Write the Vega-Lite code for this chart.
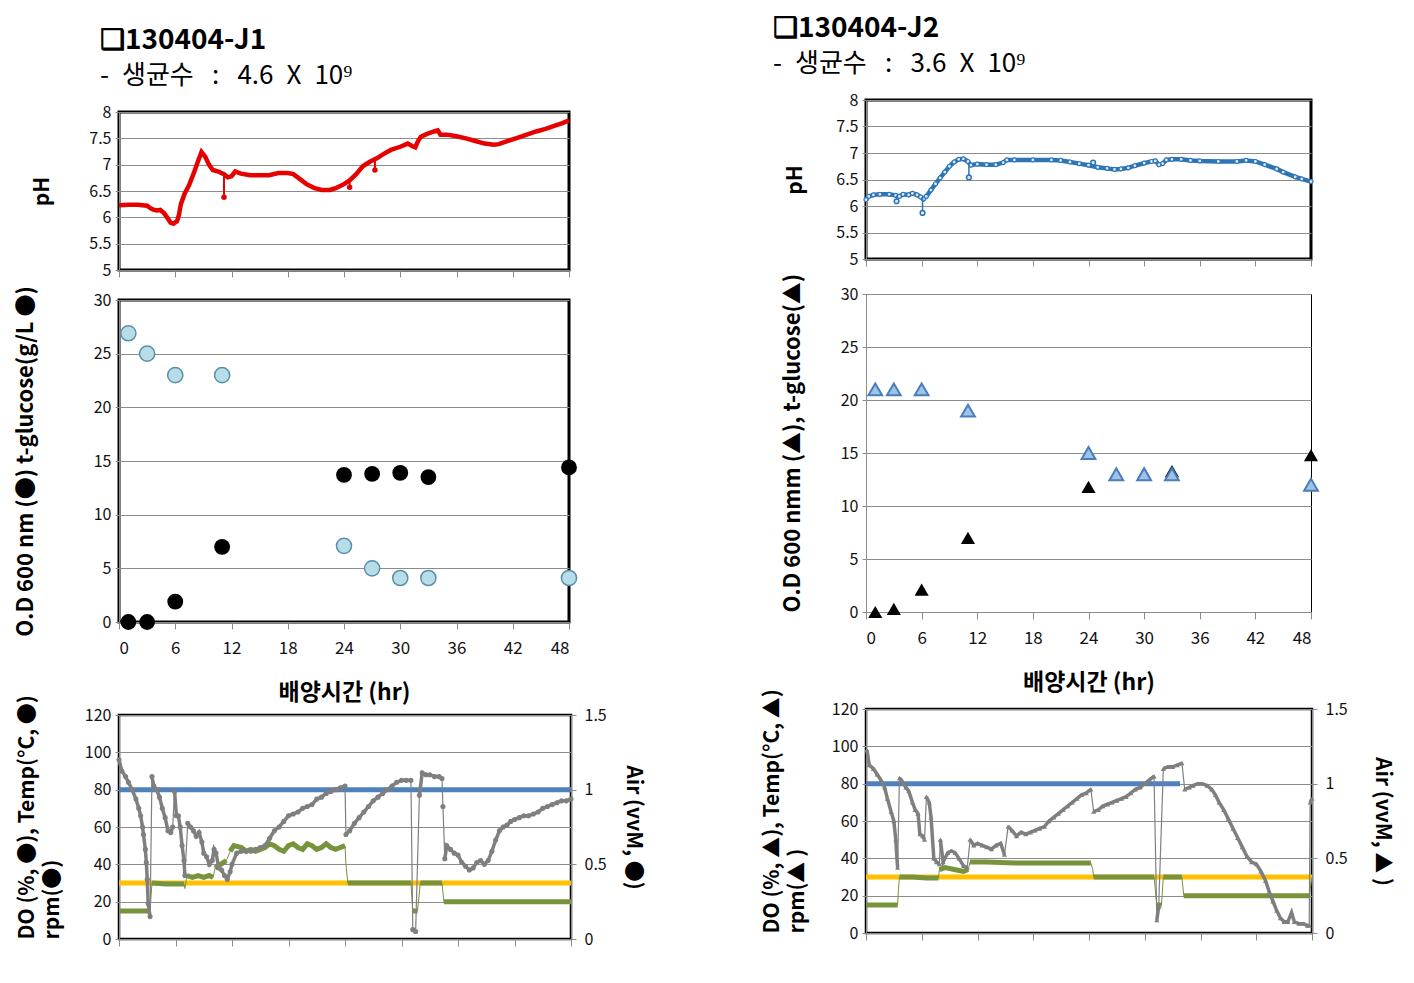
{
"$schema": "https://vega.github.io/schema/vega-lite/v6.json",
"background": "white",
"padding": {"left": 12, "top": 0, "right": 20, "bottom": 0},
"config": {
  "font": "Noto Sans CJK KR",
  "axis": {"labelFont": "Noto Sans CJK KR", "labelFontSize": 16, "labelColor": "#111", "titleFont": "Noto Sans CJK KR", "titleFontSize": 21, "titleFontWeight": "bold", "titleColor": "#000", "gridColor": "#8c8c8c", "domainColor": "#8c8c8c", "tickColor": "#8c8c8c", "tickSize": 5, "labelPadding": 4}
},
"datasets": {
  "phL": [{"t":0,"ph":6.23},{"t":1,"ph":6.24},{"t":2,"ph":6.24},{"t":3,"ph":6.22},{"t":3.3,"ph":6.18},{"t":3.6,"ph":6.15},{"t":4,"ph":6.13},{"t":4.4,"ph":6.14},{"t":4.8,"ph":6.08},{"t":5.2,"ph":5.98},{"t":5.5,"ph":5.9},{"t":5.8,"ph":5.88},{"t":6.2,"ph":5.93},{"t":6.4,"ph":6.05},{"t":6.6,"ph":6.25},{"t":7,"ph":6.45},{"t":7.5,"ph":6.62},{"t":8,"ph":6.85},{"t":8.4,"ph":7.05},{"t":8.8,"ph":7.24},{"t":9.2,"ph":7.15},{"t":9.6,"ph":7.0},{"t":10,"ph":6.9},{"t":10.6,"ph":6.87},{"t":11.2,"ph":6.82},{"t":11.6,"ph":6.76},{"t":12,"ph":6.78},{"t":12.4,"ph":6.87},{"t":13,"ph":6.83},{"t":14,"ph":6.8},{"t":15,"ph":6.8},{"t":16,"ph":6.8},{"t":17,"ph":6.84},{"t":18,"ph":6.84},{"t":18.6,"ph":6.82},{"t":19.2,"ph":6.74},{"t":20,"ph":6.63},{"t":20.8,"ph":6.56},{"t":21.6,"ph":6.52},{"t":22.5,"ph":6.52},{"t":23.2,"ph":6.56},{"t":24,"ph":6.63},{"t":24.6,"ph":6.7},{"t":25.3,"ph":6.82},{"t":26,"ph":6.97},{"t":26.8,"ph":7.06},{"t":27.5,"ph":7.12},{"t":28.2,"ph":7.2},{"t":29,"ph":7.28},{"t":30,"ph":7.34},{"t":30.8,"ph":7.4},{"t":31.3,"ph":7.35},{"t":31.6,"ph":7.33},{"t":31.9,"ph":7.45},{"t":32.2,"ph":7.53},{"t":32.8,"ph":7.58},{"t":33.6,"ph":7.63},{"t":34,"ph":7.65},{"t":34.3,"ph":7.57},{"t":35,"ph":7.57},{"t":36,"ph":7.54},{"t":37,"ph":7.5},{"t":38,"ph":7.45},{"t":39,"ph":7.4},{"t":40,"ph":7.38},{"t":40.5,"ph":7.39},{"t":41.5,"ph":7.45},{"t":42.5,"ph":7.51},{"t":43.5,"ph":7.57},{"t":44.5,"ph":7.63},{"t":45.5,"ph":7.68},{"t":46.5,"ph":7.74},{"t":47.3,"ph":7.79},{"t":48,"ph":7.84}],
  "phLs": [{"t":11.2,"ph":6.38,"ph2":6.82},{"t":24.6,"ph":6.57,"ph2":6.7},{"t":27.3,"ph":6.9,"ph2":7.1}],
  "phR": [{"t":0,"ph":6.12},{"t":0.3,"ph":6.18},{"t":0.8,"ph":6.21},{"t":1.5,"ph":6.22},{"t":2.5,"ph":6.22},{"t":3.2,"ph":6.2},{"t":3.6,"ph":6.18},{"t":4,"ph":6.22},{"t":4.6,"ph":6.21},{"t":5,"ph":6.24},{"t":5.5,"ph":6.21},{"t":5.9,"ph":6.17},{"t":6.2,"ph":6.13},{"t":6.5,"ph":6.18},{"t":7,"ph":6.3},{"t":7.5,"ph":6.42},{"t":8,"ph":6.53},{"t":8.5,"ph":6.64},{"t":9,"ph":6.75},{"t":9.5,"ph":6.83},{"t":10,"ph":6.88},{"t":10.5,"ph":6.89},{"t":11,"ph":6.84},{"t":11.3,"ph":6.77},{"t":12,"ph":6.79},{"t":13,"ph":6.78},{"t":14,"ph":6.78},{"t":14.8,"ph":6.82},{"t":15.2,"ph":6.87},{"t":16,"ph":6.87},{"t":18,"ph":6.87},{"t":20,"ph":6.87},{"t":21,"ph":6.86},{"t":22,"ph":6.83},{"t":23,"ph":6.8},{"t":24,"ph":6.77},{"t":25,"ph":6.73},{"t":26,"ph":6.71},{"t":26.8,"ph":6.69},{"t":27.5,"ph":6.7},{"t":28.3,"ph":6.72},{"t":29,"ph":6.76},{"t":30,"ph":6.81},{"t":30.8,"ph":6.84},{"t":31.2,"ph":6.85},{"t":31.6,"ph":6.78},{"t":32,"ph":6.8},{"t":32.4,"ph":6.87},{"t":33,"ph":6.88},{"t":34,"ph":6.88},{"t":35,"ph":6.86},{"t":36,"ph":6.85},{"t":38,"ph":6.84},{"t":40,"ph":6.84},{"t":41,"ph":6.86},{"t":42,"ph":6.84},{"t":43,"ph":6.78},{"t":44.3,"ph":6.7},{"t":45,"ph":6.64},{"t":46.3,"ph":6.55},{"t":47,"ph":6.51},{"t":48,"ph":6.46}],
  "phRs": [{"t":3.3,"ph":6.09,"ph2":6.2},{"t":6.1,"ph":5.87,"ph2":6.15},{"t":11.1,"ph":6.54,"ph2":6.82},{"t":24.5,"ph":6.82,"ph2":6.76}],
  "odL": [{"t":1,"v":0},{"t":3,"v":0},{"t":6,"v":1.9},{"t":11,"v":7},{"t":24,"v":13.7},{"t":27,"v":13.8},{"t":30,"v":13.9},{"t":33,"v":13.5},{"t":48,"v":14.4}],
  "gluL": [{"t":1,"v":26.9},{"t":3,"v":25},{"t":6,"v":23},{"t":11,"v":23},{"t":24,"v":7.1},{"t":27,"v":5},{"t":30,"v":4.1},{"t":33,"v":4.1},{"t":48,"v":4.1}],
  "odR": [{"t":1,"v":0},{"t":3,"v":0.3},{"t":6,"v":2.1},{"t":11,"v":7},{"t":24,"v":11.8},{"t":27,"v":13},{"t":30,"v":13.1},{"t":33,"v":13.3},{"t":48,"v":14.8}],
  "gluR": [{"t":1,"v":21},{"t":3,"v":21},{"t":6,"v":21},{"t":11,"v":19},{"t":24,"v":15},{"t":27,"v":13},{"t":30,"v":13},{"t":33,"v":13},{"t":48,"v":12}],
  "tempL": [{"t":0,"v":30},{"t":48,"v":30}],
  "airL": [{"t":0,"v":1},{"t":48,"v":1}],
  "tempR": [{"t":0,"v":30},{"t":48,"v":30}],
  "airR": [{"t":0,"v":1},{"t":33.8,"v":1}],
  "doL": [{"t":0,"v":96,"s":"a"},{"t":0.3,"v":90,"s":"a"},{"t":0.7,"v":87,"s":"a"},{"t":1.0,"v":84,"s":"a"},{"t":1.4,"v":80,"s":"a"},{"t":1.8,"v":75,"s":"a"},{"t":2.1,"v":70,"s":"a"},{"t":2.3,"v":66,"s":"a"},{"t":2.5,"v":60,"s":"a"},{"t":2.6,"v":56,"s":"a"},{"t":2.8,"v":48,"s":"a"},{"t":2.9,"v":41,"s":"a"},{"t":3.0,"v":32,"s":"a"},{"t":3.1,"v":19,"s":"a"},{"t":3.3,"v":12,"s":"a"},
    {"t":3.5,"v":87,"s":"b"},{"t":3.7,"v":82,"s":"b"},{"t":4.0,"v":80,"s":"b"},{"t":4.3,"v":76,"s":"b"},{"t":4.6,"v":70,"s":"b"},{"t":4.9,"v":65,"s":"b"},{"t":5.2,"v":58,"s":"b"},{"t":5.5,"v":57,"s":"b"},{"t":5.7,"v":60,"s":"b"},
    {"t":5.9,"v":79,"s":"c"},{"t":6.1,"v":66,"s":"c"},{"t":6.3,"v":66,"s":"c"},{"t":6.5,"v":60,"s":"c"},{"t":6.7,"v":50,"s":"c"},{"t":6.9,"v":42,"s":"c"},{"t":7.0,"v":34,"s":"c"},
    {"t":7.3,"v":62,"s":"d"},{"t":7.6,"v":60,"s":"d"},{"t":7.9,"v":58,"s":"d"},{"t":8.2,"v":55,"s":"d"},{"t":8.5,"v":57,"s":"d"},{"t":8.8,"v":52,"s":"d"},{"t":9.0,"v":46,"s":"d"},{"t":9.3,"v":44,"s":"d"},{"t":9.6,"v":40,"s":"d"},{"t":9.9,"v":42,"s":"d"},{"t":10.1,"v":48,"s":"d"},{"t":10.3,"v":46,"s":"d"},{"t":10.6,"v":38,"s":"d"},{"t":10.9,"v":37,"s":"d"},{"t":11.2,"v":34,"s":"d"},{"t":11.5,"v":32,"s":"d"},{"t":11.8,"v":36,"s":"d"},{"t":12.0,"v":40,"s":"d"},{"t":12.5,"v":46,"s":"d"},{"t":13.0,"v":47,"s":"d"},{"t":13.5,"v":47,"s":"d"},{"t":14.0,"v":47,"s":"d"},{"t":14.5,"v":48,"s":"d"},{"t":15.0,"v":49,"s":"d"},{"t":15.5,"v":50,"s":"d"},{"t":16.0,"v":54,"s":"d"},{"t":16.5,"v":58,"s":"d"},{"t":17.0,"v":60,"s":"d"},{"t":17.5,"v":63,"s":"d"},{"t":18.0,"v":66,"s":"d"},{"t":18.5,"v":67,"s":"d"},{"t":19.0,"v":68,"s":"d"},{"t":19.5,"v":70,"s":"d"},{"t":20.0,"v":71,"s":"d"},{"t":20.5,"v":72,"s":"d"},{"t":21.0,"v":75,"s":"d"},{"t":21.5,"v":76,"s":"d"},{"t":22.0,"v":78,"s":"d"},{"t":22.5,"v":79,"s":"d"},{"t":23.0,"v":80,"s":"d"},{"t":23.5,"v":81,"s":"d"},{"t":24.0,"v":82,"s":"d"},
    {"t":24.1,"v":56,"s":"e"},{"t":24.5,"v":58,"s":"e"},{"t":25.0,"v":62,"s":"e"},{"t":25.5,"v":65,"s":"e"},{"t":26.0,"v":68,"s":"e"},{"t":26.5,"v":71,"s":"e"},{"t":27.0,"v":74,"s":"e"},{"t":27.5,"v":76,"s":"e"},{"t":28.0,"v":78,"s":"e"},{"t":28.5,"v":80,"s":"e"},{"t":29.0,"v":82,"s":"e"},{"t":29.5,"v":84,"s":"e"},{"t":30.0,"v":85,"s":"e"},{"t":30.5,"v":85,"s":"e"},{"t":31.0,"v":85,"s":"e"},
    {"t":31.2,"v":5,"s":"f"},{"t":31.5,"v":4,"s":"f"},
    {"t":31.9,"v":77,"s":"g"},{"t":32.2,"v":89,"s":"g"},{"t":32.6,"v":88,"s":"g"},{"t":33.0,"v":88,"s":"g"},{"t":33.5,"v":87,"s":"g"},{"t":34.0,"v":87,"s":"g"},{"t":34.3,"v":86,"s":"g"},
    {"t":34.4,"v":71,"s":"h"},
    {"t":34.6,"v":43,"s":"i"},{"t":34.8,"v":50,"s":"i"},{"t":35.2,"v":48,"s":"i"},{"t":35.6,"v":46,"s":"i"},{"t":36.0,"v":45,"s":"i"},{"t":36.4,"v":41,"s":"i"},{"t":36.8,"v":39,"s":"i"},{"t":37.2,"v":37,"s":"i"},{"t":37.6,"v":38,"s":"i"},{"t":38.0,"v":41,"s":"i"},{"t":38.4,"v":42,"s":"i"},{"t":38.8,"v":40,"s":"i"},{"t":39.2,"v":42,"s":"i"},{"t":39.6,"v":47,"s":"i"},{"t":40.0,"v":53,"s":"i"},{"t":40.4,"v":58,"s":"i"},{"t":40.8,"v":60,"s":"i"},{"t":41.2,"v":61,"s":"i"},{"t":41.6,"v":63,"s":"i"},{"t":42.0,"v":64,"s":"i"},{"t":42.5,"v":65,"s":"i"},{"t":43.0,"v":66,"s":"i"},{"t":43.5,"v":66,"s":"i"},{"t":44.0,"v":67,"s":"i"},{"t":44.5,"v":68,"s":"i"},{"t":45.0,"v":70,"s":"i"},{"t":45.5,"v":71,"s":"i"},{"t":46.0,"v":72,"s":"i"},{"t":46.5,"v":73,"s":"i"},{"t":47.0,"v":74,"s":"i"},{"t":47.5,"v":74,"s":"i"},{"t":48.0,"v":75,"s":"i"}],
  "rpmL": [{"t":0,"v":15,"s":"a"},{"t":1,"v":15,"s":"a"},{"t":2,"v":15,"s":"a"},{"t":3.3,"v":15,"s":"a"},
    {"t":3.5,"v":30,"s":"b"},{"t":5,"v":29.5,"s":"b"},{"t":6.9,"v":29.5,"s":"b"},
    {"t":7.0,"v":27,"s":"c"},
    {"t":7.2,"v":34,"s":"d"},{"t":7.8,"v":33,"s":"d"},{"t":8.4,"v":34,"s":"d"},{"t":9.0,"v":33,"s":"d"},{"t":9.6,"v":34,"s":"d"},{"t":10.0,"v":33,"s":"d"},
    {"t":10.2,"v":38,"s":"e"},{"t":10.8,"v":40,"s":"e"},{"t":11.4,"v":42,"s":"e"},
    {"t":11.8,"v":47,"s":"f"},{"t":12.2,"v":50,"s":"f"},{"t":13.0,"v":49,"s":"f"},{"t":13.5,"v":47,"s":"f"},{"t":14.0,"v":48,"s":"f"},{"t":14.5,"v":47,"s":"f"},{"t":15.0,"v":48,"s":"f"},{"t":15.5,"v":49,"s":"f"},{"t":16.0,"v":51,"s":"f"},{"t":16.5,"v":50,"s":"f"},{"t":17.0,"v":48,"s":"f"},{"t":17.5,"v":47,"s":"f"},{"t":18.0,"v":50,"s":"f"},{"t":18.5,"v":51,"s":"f"},{"t":19.0,"v":49,"s":"f"},{"t":19.5,"v":48,"s":"f"},{"t":20.0,"v":51,"s":"f"},{"t":20.5,"v":50,"s":"f"},{"t":21.0,"v":48,"s":"f"},{"t":21.5,"v":49,"s":"f"},{"t":22.0,"v":51,"s":"f"},{"t":22.5,"v":49,"s":"f"},{"t":23.0,"v":48,"s":"f"},{"t":23.5,"v":49,"s":"f"},{"t":24.0,"v":50,"s":"f"},
    {"t":24.1,"v":40,"s":"g"},
    {"t":24.3,"v":30,"s":"h"},{"t":31.0,"v":30,"s":"h"},
    {"t":31.2,"v":15,"s":"i"},{"t":31.7,"v":15,"s":"i"},
    {"t":32.0,"v":30,"s":"j"},{"t":34.3,"v":30,"s":"j"},
    {"t":34.5,"v":20,"s":"k"},{"t":48,"v":20,"s":"k"}],
  "doR": [{"t":0.1,"v":98,"s":"a"},{"t":0.35,"v":90,"s":"a"},{"t":0.8,"v":88,"s":"a"},{"t":1.2,"v":85,"s":"a"},{"t":1.6,"v":82,"s":"a"},{"t":2.0,"v":78,"s":"a"},{"t":2.3,"v":72,"s":"a"},{"t":2.7,"v":65,"s":"a"},{"t":3.0,"v":60,"s":"a"},{"t":3.2,"v":50,"s":"a"},{"t":3.4,"v":35,"s":"a"},
    {"t":3.6,"v":83,"s":"b"},{"t":3.8,"v":82,"s":"b"},{"t":4.3,"v":78,"s":"b"},{"t":4.6,"v":76,"s":"b"},{"t":5.0,"v":70,"s":"b"},{"t":5.3,"v":66,"s":"b"},{"t":5.6,"v":64,"s":"b"},{"t":5.8,"v":53,"s":"b"},{"t":6.1,"v":52,"s":"b"},{"t":6.3,"v":50,"s":"b"},
    {"t":6.5,"v":73,"s":"c"},{"t":6.8,"v":70,"s":"c"},{"t":7.0,"v":62,"s":"c"},{"t":7.3,"v":40,"s":"c"},{"t":7.6,"v":38,"s":"c"},{"t":7.9,"v":37,"s":"c"},
    {"t":8.0,"v":50,"s":"d"},{"t":8.3,"v":38,"s":"d"},{"t":8.8,"v":43,"s":"d"},{"t":9.2,"v":44,"s":"d"},{"t":9.6,"v":43,"s":"d"},{"t":10.0,"v":40,"s":"d"},{"t":10.5,"v":36,"s":"d"},{"t":10.9,"v":35,"s":"d"},
    {"t":11.2,"v":50,"s":"e"},{"t":11.6,"v":47,"s":"e"},{"t":12.0,"v":48,"s":"e"},{"t":12.5,"v":47,"s":"e"},{"t":13.0,"v":46,"s":"e"},{"t":13.5,"v":45,"s":"e"},{"t":14.0,"v":47,"s":"e"},{"t":14.5,"v":48,"s":"e"},{"t":14.9,"v":42,"s":"e"},
    {"t":15.3,"v":57,"s":"f"},{"t":15.7,"v":55,"s":"f"},{"t":16.2,"v":52,"s":"f"},{"t":16.7,"v":54,"s":"f"},{"t":17.2,"v":53,"s":"f"},{"t":17.7,"v":54,"s":"f"},{"t":18.2,"v":55,"s":"f"},{"t":18.7,"v":56,"s":"f"},{"t":19.2,"v":57,"s":"f"},{"t":19.7,"v":60,"s":"f"},{"t":20.2,"v":62,"s":"f"},{"t":20.7,"v":64,"s":"f"},{"t":21.2,"v":66,"s":"f"},{"t":21.7,"v":68,"s":"f"},{"t":22.2,"v":70,"s":"f"},{"t":22.7,"v":72,"s":"f"},{"t":23.2,"v":74,"s":"f"},{"t":23.7,"v":75,"s":"f"},{"t":24.2,"v":77,"s":"f"},
    {"t":24.5,"v":65,"s":"g"},{"t":25.0,"v":66,"s":"g"},{"t":25.5,"v":68,"s":"g"},{"t":26.0,"v":69,"s":"g"},{"t":26.5,"v":70,"s":"g"},{"t":27.0,"v":71,"s":"g"},{"t":27.5,"v":72,"s":"g"},{"t":28.0,"v":73,"s":"g"},{"t":28.5,"v":75,"s":"g"},{"t":29.0,"v":77,"s":"g"},{"t":29.5,"v":78,"s":"g"},{"t":30.0,"v":80,"s":"g"},{"t":30.5,"v":82,"s":"g"},{"t":31.0,"v":84,"s":"g"},
    {"t":31.3,"v":7,"s":"h"},{"t":31.5,"v":14,"s":"h"},
    {"t":32.0,"v":88,"s":"i"},{"t":32.5,"v":89,"s":"i"},{"t":33.0,"v":89,"s":"i"},{"t":33.5,"v":90,"s":"i"},{"t":34.0,"v":91,"s":"i"},
    {"t":34.3,"v":77,"s":"j"},{"t":34.8,"v":78,"s":"j"},{"t":35.2,"v":79,"s":"j"},{"t":35.7,"v":80,"s":"j"},{"t":36.2,"v":80,"s":"j"},{"t":36.7,"v":79,"s":"j"},{"t":37.2,"v":77,"s":"j"},{"t":37.6,"v":74,"s":"j"},{"t":38.0,"v":70,"s":"j"},{"t":38.5,"v":66,"s":"j"},{"t":39.0,"v":61,"s":"j"},{"t":39.5,"v":56,"s":"j"},{"t":40.0,"v":51,"s":"j"},{"t":40.5,"v":46,"s":"j"},{"t":41.0,"v":41,"s":"j"},{"t":41.5,"v":38,"s":"j"},{"t":42.0,"v":37,"s":"j"},{"t":42.5,"v":33,"s":"j"},{"t":43.0,"v":28,"s":"j"},{"t":43.4,"v":22,"s":"j"},{"t":43.8,"v":17,"s":"j"},{"t":44.2,"v":12,"s":"j"},{"t":44.6,"v":8,"s":"j"},{"t":45.0,"v":6,"s":"j"},{"t":45.4,"v":6,"s":"j"},{"t":45.8,"v":11,"s":"j"},{"t":46.1,"v":6,"s":"j"},{"t":46.6,"v":5,"s":"j"},{"t":47.1,"v":5,"s":"j"},{"t":47.5,"v":4,"s":"j"},{"t":47.7,"v":4,"s":"j"},
    {"t":47.8,"v":70,"s":"k"},{"t":48.0,"v":72,"s":"k"}],
  "rpmR": [{"t":0,"v":15,"s":"a"},{"t":1.5,"v":15,"s":"a"},{"t":3.4,"v":15,"s":"a"},
    {"t":3.5,"v":24,"s":"b"},
    {"t":3.6,"v":30,"s":"c"},{"t":5,"v":30,"s":"c"},{"t":6.5,"v":29.5,"s":"c"},{"t":7.8,"v":29.5,"s":"c"},
    {"t":7.9,"v":34,"s":"d"},{"t":8.5,"v":35,"s":"d"},{"t":9.5,"v":34,"s":"d"},{"t":10.5,"v":33,"s":"d"},{"t":11.0,"v":34,"s":"d"},
    {"t":11.2,"v":38,"s":"e"},{"t":13,"v":38,"s":"e"},{"t":16,"v":37.5,"s":"e"},{"t":20,"v":37.5,"s":"e"},{"t":24.2,"v":37.5,"s":"e"},
    {"t":24.4,"v":34,"s":"f"},
    {"t":24.5,"v":30,"s":"g"},{"t":31.0,"v":30,"s":"g"},
    {"t":31.3,"v":15,"s":"h"},{"t":31.8,"v":15,"s":"h"},
    {"t":32.0,"v":30,"s":"i"},{"t":34.0,"v":30,"s":"i"},
    {"t":34.2,"v":20,"s":"j"},{"t":47.7,"v":20,"s":"j"},
    {"t":48,"v":30,"s":"k"}]
},
"spacing": 115,
"hconcat": [
 {"bounds": "flush", "spacing": 30, "vconcat": [
  {"width": 450, "height": 82, "data": {"values": []}, "mark": {"type": "point", "opacity": 0}, "view": {"stroke": null}},
  {"width": 450, "height": 158, "view": {"stroke": "#000", "strokeWidth": 3},
   "title": {"text": "❑130404-J1", "subtitle": "-\u2002생균수\u2002\u2009:\u2002\u20094.6\u2002X\u200210⁹", "anchor": "start", "frame": "group", "dx": -19, "offset": 15, "fontSize": 28, "fontWeight": "bold", "color": "#000", "subtitleFontSize": 26, "subtitleColor": "#000", "subtitlePadding": 8},
   "encoding": {
     "x": {"field": "t", "type": "quantitative", "scale": {"domain": [0, 48], "nice": false}, "axis": {"values": [0,6,12,18,24,30,36,42,48], "labels": false, "grid": false, "domain": false, "tickSize": 7, "title": null}},
     "y": {"field": "ph", "type": "quantitative", "scale": {"domain": [5, 8], "nice": false, "zero": false}, "axis": {"values": [5,5.5,6,6.5,7,7.5,8], "format": "~g", "title": "pH", "titlePadding": 36, "grid": true, "tickSize": 4}}
   },
   "layer": [
     {"data": {"name": "phL"}, "mark": {"type": "line", "color": "#E60000", "strokeWidth": 4.5}},
     {"data": {"name": "phLs"}, "mark": {"type": "rule", "color": "#E60000", "strokeWidth": 2}, "encoding": {"y2": {"field": "ph2"}}},
     {"data": {"name": "phLs"}, "mark": {"type": "point", "filled": true, "color": "#E60000", "size": 30, "opacity": 1}}
   ]},
  {"width": 450, "height": 322, "view": {"stroke": "#000", "strokeWidth": 3},
   "encoding": {
     "x": {"field": "t", "type": "quantitative", "scale": {"domain": [0, 48], "nice": false}, "axis": {"values": [0,6,12,18,24,30,36,42,48], "labelFontSize": 17, "labelPadding": 11, "grid": false, "domain": false, "tickSize": 7, "title": "배양시간 (hr)", "titleFontSize": 23, "titlePadding": 25}},
     "y": {"field": "v", "type": "quantitative", "scale": {"domain": [0, 30], "nice": false}, "axis": {"values": [0,5,10,15,20,25,30], "title": "O.D 600 nm (●)     t-glucose(g/L ●)", "titleFontSize": 22, "titlePadding": 56, "grid": true, "tickSize": 4}}
   },
   "layer": [
     {"data": {"name": "gluL"}, "mark": {"type": "point", "shape": "circle", "filled": true, "fill": "#B7DEE8", "stroke": "#5B8FA8", "strokeWidth": 1.5, "size": 230, "opacity": 1}},
     {"data": {"name": "odL"}, "mark": {"type": "point", "shape": "circle", "filled": true, "color": "#000", "size": 250, "opacity": 1}}
   ]},
  {"width": 450, "height": 33, "data": {"values": []}, "mark": {"type": "point", "opacity": 0}, "view": {"stroke": null}},
  {"width": 452, "height": 224, "view": {"stroke": "#000", "strokeWidth": 2.5},
   "layer": [
     {"data": {"name": "airL"}, "mark": {"type": "line", "color": "#4F81BD", "strokeWidth": 5},
      "encoding": {
        "x": {"field": "t", "type": "quantitative", "scale": {"domain": [0, 48], "nice": false}, "axis": {"values": [0,6,12,18,24,30,36,42,48], "labels": false, "grid": false, "domain": false, "tickSize": 7, "title": null}},
        "y": {"field": "v", "type": "quantitative", "scale": {"domain": [0, 1.5], "nice": false}, "axis": {"orient": "right", "values": [0,0.5,1,1.5], "format": "~g", "grid": false, "title": "Air (vvM, ●)", "titlePadding": 16, "tickSize": 5, "labelPadding": 8}}
      }},
     {"encoding": {
        "x": {"field": "t", "type": "quantitative", "scale": {"domain": [0, 48], "nice": false}, "axis": {"values": [0,6,12,18,24,30,36,42,48], "labels": false, "grid": false, "domain": false, "tickSize": 7, "title": null}},
        "y": {"field": "v", "type": "quantitative", "scale": {"domain": [0, 120], "nice": false}, "axis": {"orient": "left", "values": [0,20,40,60,80,100,120], "grid": true, "tickSize": 4, "title": ["DO (%, ●), Temp(°C, ●)", "rpm(●)"], "titleAnchor": "start", "titlePadding": 22, "titleLineHeight": 25}}
      },
      "layer": [
        {"data": {"name": "tempL"}, "mark": {"type": "line", "color": "#FFC000", "strokeWidth": 5}},
        {"data": {"name": "rpmL"}, "mark": {"type": "line", "color": "#77933C", "strokeWidth": 1}},
        {"data": {"name": "rpmL"}, "mark": {"type": "line", "color": "#77933C", "strokeWidth": 5}, "encoding": {"detail": {"field": "s"}}},
        {"data": {"name": "doL"}, "mark": {"type": "line", "color": "#7F7F7F", "strokeWidth": 1.2}},
        {"data": {"name": "doL"}, "mark": {"type": "line", "color": "#7F7F7F", "strokeWidth": 3.5}, "encoding": {"detail": {"field": "s"}}},
        {"data": {"name": "doL"}, "mark": {"type": "point", "shape": "circle", "filled": true, "color": "#7F7F7F", "size": 26, "opacity": 1}}
      ]}
   ],
   "resolve": {"scale": {"y": "independent"}}}
 ]},
 {"bounds": "flush", "spacing": 35, "vconcat": [
  {"width": 445, "height": 65, "data": {"values": []}, "mark": {"type": "point", "opacity": 0}, "view": {"stroke": null}},
  {"width": 445, "height": 159, "view": {"stroke": "#000", "strokeWidth": 3},
   "title": {"text": "❑130404-J2", "subtitle": "-\u2002생균수\u2002\u2009:\u2002\u20093.6\u2002X\u200210⁹", "anchor": "start", "frame": "group", "dx": -93, "offset": 15, "fontSize": 28, "fontWeight": "bold", "color": "#000", "subtitleFontSize": 26, "subtitleColor": "#000", "subtitlePadding": 8},
   "encoding": {
     "x": {"field": "t", "type": "quantitative", "scale": {"domain": [0, 48], "nice": false}, "axis": {"values": [0,6,12,18,24,30,36,42,48], "labels": false, "grid": false, "domain": false, "tickSize": 7, "title": null}},
     "y": {"field": "ph", "type": "quantitative", "scale": {"domain": [5, 8], "nice": false, "zero": false}, "axis": {"values": [5,5.5,6,6.5,7,7.5,8], "format": "~g", "title": "pH", "titlePadding": 30, "grid": true, "tickSize": 4}}
   },
   "layer": [
     {"data": {"name": "phR"}, "mark": {"type": "line", "color": "#2E75B6", "strokeWidth": 4.5}},
     {"data": {"name": "phR"}, "mark": {"type": "point", "shape": "circle", "filled": true, "fill": "#DDEBF7", "stroke": "#2E75B6", "strokeWidth": 1.2, "size": 16, "opacity": 1}},
     {"data": {"name": "phRs"}, "mark": {"type": "rule", "color": "#2E75B6", "strokeWidth": 1.5}, "encoding": {"y2": {"field": "ph2"}}},
     {"data": {"name": "phRs"}, "mark": {"type": "point", "shape": "circle", "filled": true, "fill": "#DDEBF7", "stroke": "#2E75B6", "strokeWidth": 1.5, "size": 22, "opacity": 1}}
   ]},
  {"width": 445, "height": 318, "view": {"stroke": "#000", "strokeWidth": 1},
   "encoding": {
     "x": {"field": "t", "type": "quantitative", "scale": {"domain": [0, 48], "nice": false}, "axis": {"values": [0,6,12,18,24,30,36,42,48], "labelFontSize": 17, "labelPadding": 11, "grid": false, "domain": false, "tickSize": 7, "title": "배양시간 (hr)", "titleFontSize": 23, "titlePadding": 25}},
     "y": {"field": "v", "type": "quantitative", "scale": {"domain": [0, 30], "nice": false}, "axis": {"values": [0,5,10,15,20,25,30], "title": "O.D 600 nmm (▲),      t-glucose(▲)", "titleFontSize": 22, "titleAnchor": "start", "titlePadding": 36, "grid": true, "tickSize": 4}}
   },
   "layer": [
     {"data": {"name": "odR"}, "mark": {"type": "point", "shape": "triangle-up", "filled": true, "color": "#000", "size": 200, "opacity": 1}},
     {"data": {"name": "gluR"}, "mark": {"type": "point", "shape": "triangle-up", "filled": true, "fill": "#9DC3E6", "stroke": "#4A7EBB", "strokeWidth": 2, "size": 190, "opacity": 1}}
   ]},
  {"width": 445, "height": 27, "data": {"values": []}, "mark": {"type": "point", "opacity": 0}, "view": {"stroke": null}},
  {"width": 446, "height": 224, "view": {"stroke": "#000", "strokeWidth": 2.5},
   "layer": [
     {"data": {"name": "airR"}, "mark": {"type": "line", "color": "#4F81BD", "strokeWidth": 5},
      "encoding": {
        "x": {"field": "t", "type": "quantitative", "scale": {"domain": [0, 48], "nice": false}, "axis": {"values": [0,6,12,18,24,30,36,42,48], "labels": false, "grid": false, "domain": false, "tickSize": 7, "title": null}},
        "y": {"field": "v", "type": "quantitative", "scale": {"domain": [0, 1.5], "nice": false}, "axis": {"orient": "right", "values": [0,0.5,1,1.5], "format": "~g", "grid": false, "title": "Air (vvM, ▲ )", "titlePadding": 24, "tickSize": 5, "labelPadding": 8}}
      }},
     {"encoding": {
        "x": {"field": "t", "type": "quantitative", "scale": {"domain": [0, 48], "nice": false}, "axis": {"values": [0,6,12,18,24,30,36,42,48], "labels": false, "grid": false, "domain": false, "tickSize": 7, "title": null}},
        "y": {"field": "v", "type": "quantitative", "scale": {"domain": [0, 120], "nice": false}, "axis": {"orient": "left", "values": [0,20,40,60,80,100,120], "grid": true, "tickSize": 4, "title": ["DO (%, ▲), Temp(°C, ▲)", "rpm(▲ )"], "titleAnchor": "start", "titlePadding": 24, "titleLineHeight": 25}}
      },
      "layer": [
        {"data": {"name": "tempR"}, "mark": {"type": "line", "color": "#FFC000", "strokeWidth": 5}},
        {"data": {"name": "rpmR"}, "mark": {"type": "line", "color": "#77933C", "strokeWidth": 1}},
        {"data": {"name": "rpmR"}, "mark": {"type": "line", "color": "#77933C", "strokeWidth": 5}, "encoding": {"detail": {"field": "s"}}},
        {"data": {"name": "doR"}, "mark": {"type": "line", "color": "#7F7F7F", "strokeWidth": 1.2}},
        {"data": {"name": "doR"}, "mark": {"type": "line", "color": "#7F7F7F", "strokeWidth": 3.5}, "encoding": {"detail": {"field": "s"}}},
        {"data": {"name": "doR"}, "mark": {"type": "point", "shape": "triangle-up", "filled": true, "color": "#7F7F7F", "size": 26, "opacity": 1}}
      ]}
   ],
   "resolve": {"scale": {"y": "independent"}}}
 ]}
]
}
